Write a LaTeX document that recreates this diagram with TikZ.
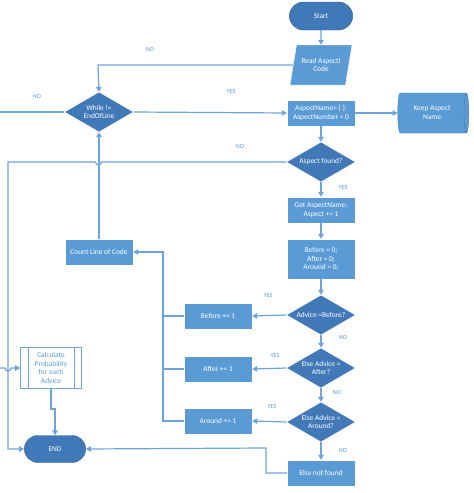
\documentclass[tikz,border=0pt]{standalone}
\usepackage{fontspec}
\setmainfont{Carlito}
\usetikzlibrary{shapes.geometric,shapes.misc,arrows.meta}

\definecolor{boxblue}{HTML}{5B9BD5}
\definecolor{darkblue}{HTML}{4178B8}
\definecolor{lineblue}{HTML}{6FA3DB}

\tikzset{
  every node/.style={font=\fontsize{7.4}{8.8}\selectfont},
  proc/.style={rectangle, fill=boxblue, draw=white, line width=0.4pt, text=white, align=center,
    minimum width=68pt, minimum height=26pt, inner sep=1pt},
  term/.style={rounded rectangle, fill=darkblue, draw=darkblue!80!black, line width=0.4pt, text=white,
    minimum width=70pt, minimum height=28pt},
  decide/.style={diamond, aspect=1.7, fill=darkblue, draw=white, line width=0.4pt, text=white, align=center,
    minimum width=69pt, minimum height=40pt, inner sep=0pt},
  io/.style={trapezium, trapezium left angle=65, trapezium right angle=115, fill=boxblue, draw=white,
    text=white, align=center, minimum width=62pt, minimum height=40pt, inner sep=0pt,
    trapezium stretches body},
  store/.style={cylinder, shape aspect=0.35, fill=boxblue, draw=darkblue, line width=0.4pt, text=white,
    align=center, minimum width=40pt, minimum height=71pt, inner sep=0pt},
  flow/.style={draw=lineblue, line width=1.2pt, -{Triangle[width=5.5pt,length=5pt]}},
  plain/.style={draw=lineblue, line width=1.2pt},
  lbl/.style={text=boxblue, font=\fontsize{6.2}{7}\selectfont}
}

\begin{document}
\begin{tikzpicture}[x=1pt,y=-1pt]
  \useasboundingbox (0,0) rectangle (474,493);

  % main column
  \node[term] (start) at (321,16) {Start};
  \node[io] (read) at (321,65) {Read AspectI\\Code};
  \node[decide] (while) at (99,112) {While !=\\EndOfLine};
  \node[proc] (name) at (321,113) {AspectName= \{ \};\\AspectNumber = 0};
  \node[store] (keep) at (432,113) {Keep Aspect\\Name};
  \node[decide] (found) at (321,162) {Aspect found?};
  \node[proc] (get) at (321,210) {Get AspectName;\\Aspect += 1};
  \node[proc, minimum height=40pt] (zero) at (321,259) {Before = 0;\\After = 0;\\Around = 0;};
  \node[decide] (adv1) at (321,315) {Advice =Before?};
  \node[decide] (adv2) at (321,368) {Else Advice =\\After?};
  \node[decide] (adv3) at (321,422) {Else Advice =\\Around?};
  \node[proc] (notf) at (321,473) {Else not found};

  % counters
  \node[proc] (bef) at (218,316) {Before += 1};
  \node[proc] (aft) at (218,369) {After += 1};
  \node[proc] (aro) at (218,421) {Around += 1};
  \node[proc] (count) at (99,252) {Count Line of Code};

  % end part
  \node[rectangle, draw=lineblue, line width=0.6pt, fill=white, text=boxblue, align=center,
    minimum width=61pt, minimum height=41pt, inner sep=0pt] (calc) at (51,368)
    {Calculate\\Probability\\for each\\Advice};
  \draw[lineblue, line width=0.6pt] ([xshift=8pt]calc.north west) -- ([xshift=8pt]calc.south west)
    ([xshift=-8pt]calc.north east) -- ([xshift=-8pt]calc.south east);
  \node[term, minimum width=68pt, minimum height=27pt] (end) at (55,449) {END};

  \coordinate (inW) at (0,112);
  \coordinate (inL) at (0,368);

  % connectors
  \draw[flow] (start) -- (read);
  \draw[flow] (read.west) -- (98,65) -- (while.north);
  \draw[plain] (inW) -- (while.west);
  \draw[flow] (while.east) -- (name.west);
  \draw[flow] (name.east) -- (keep.west);
  \draw[flow] (name) -- (found);
  \draw[flow] (found.west) -- (101.5,162) arc[start angle=0,end angle=180,radius=3] -- (8,162) -- (8,449) -- (end.west);
  \draw[flow] (count.north) -- (while.south);
  \draw[flow] (found) -- (get);
  \draw[flow] (get) -- (zero);
  \draw[flow] (zero) -- (adv1);
  \draw[flow] (adv1.west) -- (bef.east);
  \draw[flow] (adv1) -- (adv2);
  \draw[flow] (adv2.west) -- (aft.east);
  \draw[flow] (adv2) -- (adv3);
  \draw[flow] (adv3.west) -- (aro.east);
  \draw[flow] (adv3) -- (notf);
  \draw[flow] (notf.west) -- (266,473) -- (266,448) -- (end.east);
  \draw[plain] (bef.west) -- (163,316);
  \draw[plain] (aft.west) -- (163,369);
  \draw[flow] (aro.west) -- (163,421) -- (163,252) -- (count.east);
  \draw[flow] (calc.south) -- (51,409) -- (55,409) -- (end.north);
  \draw[flow] (inL) -- (5,368) arc[start angle=180,end angle=0,radius=3] -- (calc.west);

  % labels
  \node[lbl] at (150,50) {NO};
  \node[lbl] at (37,97) {NO};
  \node[lbl] at (231,92) {YES};
  \node[lbl] at (240,147) {NO};
  \node[lbl] at (343,188) {YES};
  \node[lbl] at (268,296) {YES};
  \node[lbl] at (343,338) {NO};
  \node[lbl] at (275,356) {YES};
  \node[lbl] at (337,393) {NO};
  \node[lbl] at (272,407) {YES};
  \node[lbl] at (343,451) {NO};
\end{tikzpicture}
\end{document}
